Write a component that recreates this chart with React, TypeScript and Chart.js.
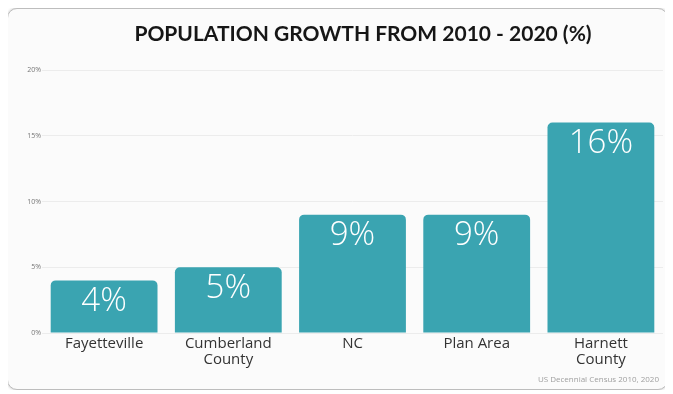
import React, { useEffect, useRef } from "react";
import { Chart, registerables } from "chart.js";

Chart.register(...registerables);

const categories: (string | string[])[] = ["Fayetteville", ["Cumberland", "County"], "NC", "Plan Area", ["Harnett", "County"]];
const growth: number[] = [4, 5, 9, 9, 16];
const yTicks: number[] = [0, 5, 10, 15, 20];
const titleText = "POPULATION GROWTH FROM 2010 - 2020 (%)";
const sourceText = "US Decennial Census 2010, 2020";

const extras = {
  id: "extras",
  afterDatasetsDraw(chart: any) {
    const ctx = chart.ctx;
    const meta = chart.getDatasetMeta(0);
    ctx.save();
    ctx.fillStyle = "#ffffff";
    ctx.font = "300 33px 'Open Sans'";
    ctx.textAlign = "center";
    ctx.textBaseline = "middle";
    meta.data.forEach((bar: any, i: number) => {
      ctx.fillText(growth[i] + "%", bar.x, bar.y + 21);
    });
    ctx.font = "8px 'Open Sans'";
    ctx.fillStyle = "#a0a0a0";
    ctx.textAlign = "right";
    ctx.fillText(sourceText, chart.width - 8, chart.height - 9);
    ctx.font = "bold 21px Lato";
    ctx.fillStyle = "#161616";
    ctx.textAlign = "center";
    ctx.fillText(titleText, 355, 25);
    ctx.restore();
  },
};

export default function App() {
  const ref = useRef<HTMLCanvasElement>(null);
  useEffect(() => {
    if (!ref.current) return;
    const chart = new Chart(ref.current, {
      type: "bar",
      data: {
        labels: categories,
        datasets: [
          {
            data: growth,
            backgroundColor: "#3aa4b1",
            borderRadius: { topLeft: 5, topRight: 5, bottomLeft: 0, bottomRight: 0 },
            borderSkipped: false,
            barPercentage: 0.86,
            categoryPercentage: 1,
          },
        ],
      },
      options: {
        animation: false,
        responsive: false,
        maintainAspectRatio: false,
        layout: { padding: { left: 0, right: 4, top: 61, bottom: 0 } },
        plugins: {
          legend: { display: false },
          tooltip: { enabled: false },
          title: { display: false },
        },
        scales: {
          x: {
            grid: { display: false, drawTicks: false },
            border: { display: false },
            ticks: {
              color: "#333333",
              font: { family: "'Open Sans'", size: 15, lineHeight: 1.1 },
              padding: 2,
              maxRotation: 0,
              autoSkip: false,
            },
            afterFit: (s: any) => {
              s.height = 56;
            },
          },
          y: {
            min: 0,
            max: 20,
            afterBuildTicks: (s: any) => {
              s.ticks = yTicks.map((v) => ({ value: v }));
            },
            grid: { color: "#ececec", drawTicks: false },
            border: { display: false },
            ticks: {
              color: "#777777",
              font: { family: "'Open Sans'", size: 7 },
              padding: 1,
              callback: (v: any) => v + "%",
            },
            afterFit: (s: any) => {
              s.width = 34;
            },
          },
        },
      },
      plugins: [extras],
    });
    return () => chart.destroy();
  }, []);
  return (
    <div
      style={{
        position: "relative",
        width: 659,
        height: 380,
        marginLeft: -1,
        border: "1px solid #bdbdbd",
        borderRadius: 10,
        background: "#fbfbfb",
        boxShadow: "0 0 3px rgba(0,0,0,0.25)",
      }}
    >
      <canvas ref={ref} width={659} height={380} style={{ display: "block" }} />
    </div>
  );
}
